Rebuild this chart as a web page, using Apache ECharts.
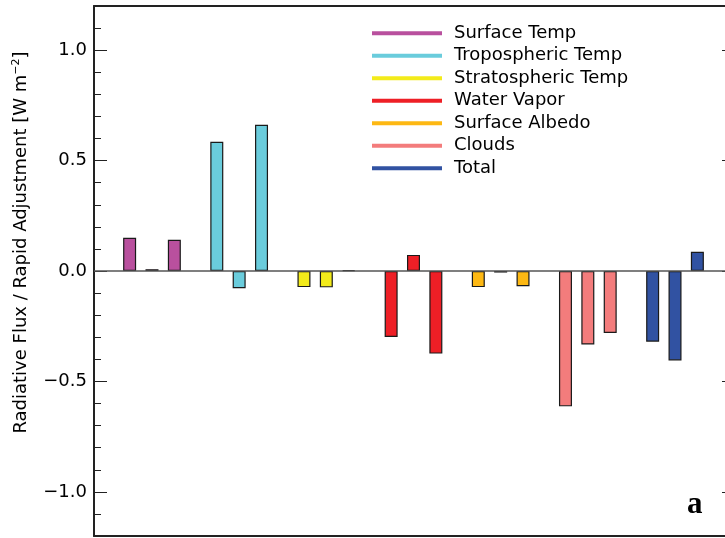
<!DOCTYPE html>
<html>
<head>
<meta charset="utf-8">
<script src="https://cdn.jsdelivr.net/npm/echarts@6/dist/echarts.min.js"></script>
<style>
html,body{margin:0;padding:0;background:#fff;}
#chart{width:725px;height:538px;}
</style>
</head>
<body>
<div id="chart"></div>
<script>
// ---- data ----
const groups = ['Surface Temp', 'Tropospheric Temp', 'Stratospheric Temp', 'Water Vapor', 'Surface Albedo', 'Clouds', 'Total'];
const run1 = [0.150, 0.585, -0.073, -0.299, -0.073, -0.613, -0.320];
const run2 = [0.008, -0.078, -0.074, 0.073, -0.007, -0.333, -0.405];
const run3 = [0.141, 0.662, 0.004, -0.374, -0.069, -0.281, 0.087];
const yTickValues = [-1.0, -0.5, 0.0, 0.5, 1.0];
const yTickLabels = ['\u22121.0', '\u22120.5', '0.0', '0.5', '1.0'];
const yTitle = 'Radiative Flux / Rapid Adjustment [W m{sup|\u22122}]';
const panelLabel = 'a';

// ---- styles ----
const groupColors = ['#B9509E', '#6ACCDC', '#F3EB1A', '#EE1F26', '#FDB813', '#F37C7C', '#3152A2'];
const FONT = 'DejaVu Sans';
const YMIN = -1.2, YMAX = 1.2;

function barSeries(name, vals) {
  return {
    name: name,
    type: 'bar',
    xAxisIndex: 2, yAxisIndex: 3,
    barWidth: 13,
    barGap: '72%',
    z: 3,
    data: vals.map((v, i) => ({
      value: v,
      itemStyle: { color: groupColors[i], borderColor: '#1a1a1a', borderWidth: 1.2 }
    }))
  };
}

const legendSeries = groups.map((g, i) => ({
  name: g, type: 'line', xAxisIndex: 0, yAxisIndex: 0, data: [],
  color: groupColors[i], lineStyle: { color: groupColors[i] }, itemStyle: { color: groupColors[i] }
}));

const chart = echarts.init(document.getElementById('chart'), null, { renderer: 'canvas' });
chart.setOption({
  animation: false,
  backgroundColor: '#ffffff',
  textStyle: { fontFamily: FONT },
  grid: [
    { left: 94, top: 6, width: 631, bottom: 2, containLabel: false },
    { left: 108.4, top: 6, width: 610.2, bottom: 2, containLabel: false }
  ],
  legend: {
    data: groups,
    orient: 'vertical',
    left: 372, top: 22,
    padding: 0,
    icon: 'rect',
    itemWidth: 70, itemHeight: 4,
    itemGap: 0,
    selectedMode: false,
    textStyle: { fontFamily: FONT, fontSize: 18, color: '#000', lineHeight: 22.5, padding: [0, 0, 0, 7] }
  },
  xAxis: [
    { gridIndex: 0, type: 'value', min: 0, max: 1, position: 'bottom',
      axisLine: { show: true, onZero: false, lineStyle: { color: '#222', width: 2 } },
      axisTick: { show: false }, axisLabel: { show: false }, splitLine: { show: false } },
    { gridIndex: 0, type: 'value', min: 0, max: 1, position: 'top',
      axisLine: { show: true, onZero: false, lineStyle: { color: '#222', width: 2 } },
      axisTick: { show: false }, axisLabel: { show: false }, splitLine: { show: false } },
    { gridIndex: 1, type: 'category', data: groups, show: false }
  ],
  yAxis: [
    { // main left axis: line, major ticks, labels, title
      gridIndex: 0, type: 'value', min: YMIN, max: YMAX, position: 'left',
      axisLine: { show: true, lineStyle: { color: '#222', width: 2 } },
      axisTick: { show: true, inside: true, length: 13, customValues: yTickValues, lineStyle: { color: '#222', width: 1 } },
      axisLabel: {
        show: true, margin: 7, customValues: yTickValues,
        fontFamily: FONT, fontSize: 18, color: '#000',
        formatter: function (v) {
          const k = yTickValues.findIndex(t => Math.abs(t - v) < 1e-6);
          return k >= 0 ? yTickLabels[k] : '';
        }
      },
      splitLine: { show: false },
      name: yTitle,
      nameLocation: 'middle',
      nameGap: 52,
      nameTextStyle: {
        fontFamily: FONT, fontSize: 18, color: '#000', lineHeight: 22,
        padding: [0, 0, 0, 57],
        rich: { sup: { fontFamily: FONT, fontSize: 11, color: '#000', verticalAlign: 'top', lineHeight: 22 } }
      }
    },
    { // minor ticks left
      gridIndex: 0, type: 'value', min: YMIN, max: YMAX, interval: 0.1, position: 'left',
      axisLine: { show: false },
      axisTick: { show: true, inside: true, length: 7, lineStyle: { color: '#222', width: 1 } },
      axisLabel: { show: false }, splitLine: { show: false }
    },
    { // right axis (just past the canvas edge), major ticks
      gridIndex: 0, type: 'value', min: YMIN, max: YMAX, position: 'right', offset: 10,
      axisLine: { show: true, lineStyle: { color: '#222', width: 2 } },
      axisTick: { show: true, inside: true, length: 13, customValues: yTickValues, lineStyle: { color: '#222', width: 1 } },
      axisLabel: { show: false }, splitLine: { show: false }
    },
    { gridIndex: 1, type: 'value', min: YMIN, max: YMAX, show: false }
  ],
  series: [
    {
      name: 'zero', type: 'line', xAxisIndex: 0, yAxisIndex: 0, data: [], z: 4,
      markLine: {
        silent: true, symbol: ['none', 'none'],
        label: { show: false },
        lineStyle: { color: '#555', width: 1.5, type: 'solid' },
        data: [{ yAxis: 0 }]
      }
    },
    barSeries('Run 1', run1),
    barSeries('Run 2', run2),
    barSeries('Run 3', run3)
  ].concat(legendSeries),
  graphic: [
    {
      type: 'text', left: 687, top: 489,
      style: { text: panelLabel, font: 'bold 31px "Liberation Serif", "Times New Roman", serif', fill: '#000' }
    }
  ]
});
</script>
</body>
</html>
